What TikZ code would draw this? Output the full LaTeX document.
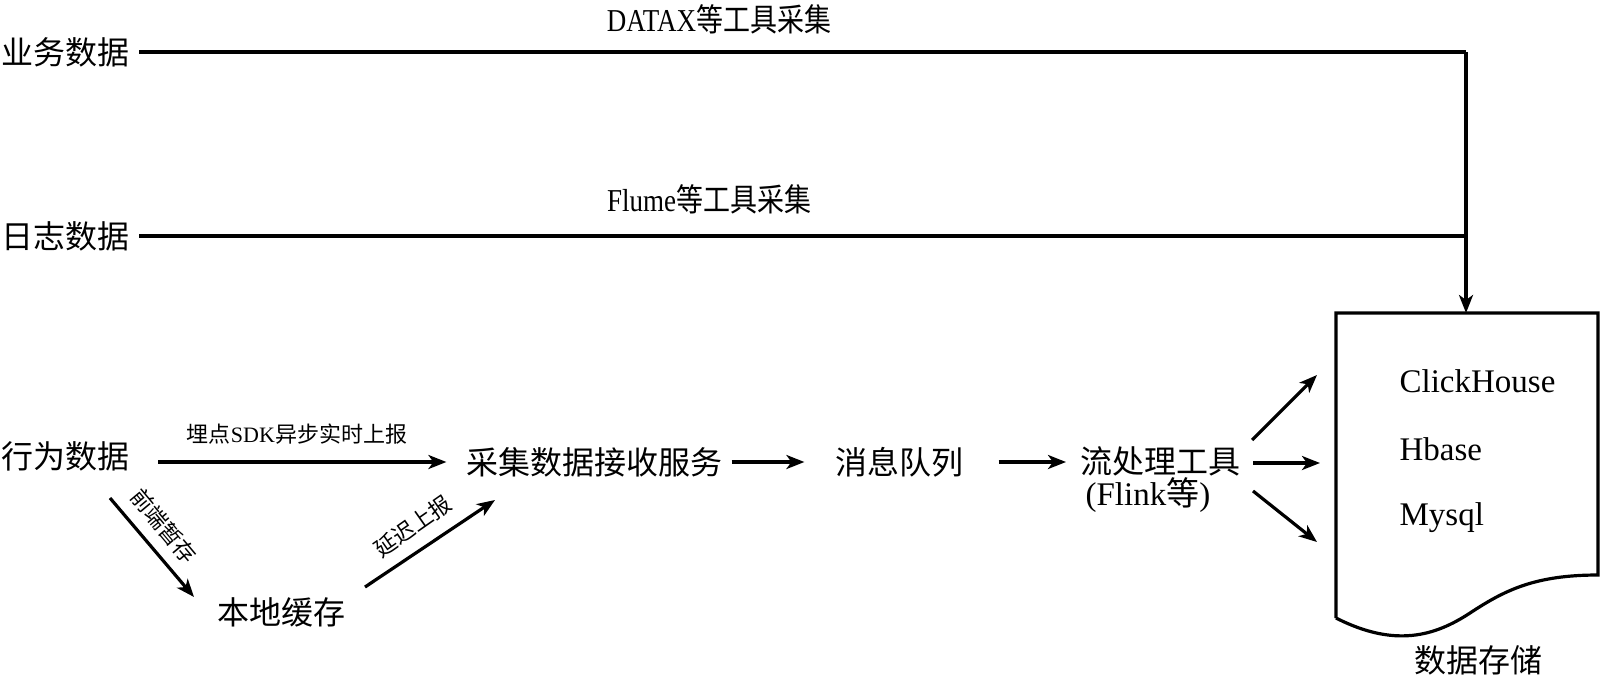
\documentclass[tikz,border=0pt]{standalone}
\usepackage{fontspec}
\setmainfont{Liberation Serif}
\newfontfamily\cjk{Noto Sans CJK SC}
\usetikzlibrary{arrows.meta}
\begin{document}
\begin{tikzpicture}[x=0.5pt,y=-0.5pt,line width=1.6pt,
  big/.style={font=\fontsize{16}{20}\selectfont\cjk,inner sep=0pt},
  lat/.style={font=\fontsize{16.5}{20}\selectfont,inner sep=0pt},
  lab/.style={font=\fontsize{13.5}{16}\selectfont,inner sep=0pt},
  small/.style={font=\fontsize{11}{13}\selectfont,inner sep=0pt},
  arr/.style={-{Stealth[length=9pt,width=7pt,inset=2.5pt]}},
  docshape/.style={line width=1.6pt,line join=miter}]
\useasboundingbox (0,0) rectangle (1600,681);

% text nodes
\node[big,anchor=west] (yw) at (0,52) {业务数据};
\node[big,anchor=west] (rz) at (0,236) {日志数据};
\node[big,anchor=west] (xw) at (0,456) {行为数据};
\node[big] (cj) at (594,462) {采集数据接收服务};
\node[big] (xx) at (899,462) {消息队列};
\node[big,anchor=west] (lc) at (1079,461) {流处理工具};
\node[lat,anchor=west] (fl) at (1084,495) {(Flink{\cjk 等})};
\node[big] (bd) at (281,612) {本地缓存};
\node[big] (sj) at (1478,660) {数据存储};
\node[lat,anchor=west] (ch) at (1398,381) {ClickHouse};
\node[lat,anchor=west] (hb) at (1398,449) {Hbase};
\node[lat,anchor=west] (my) at (1398,518) {Mysql};
\node[lab] (dx) at (719,19) {\scalebox{1}[1.18]{DATAX{\cjk 等工具采集}}};
\node[lab] (fm) at (709,199) {\scalebox{1}[1.18]{Flume{\cjk 等工具采集}}};
\node[small] (sdk) at (297,434) {{\cjk 埋点}SDK{\cjk 异步实时上报}};
\node[small,rotate=-50] (qd) at (164,526) {\cjk 前端暂存};
\node[small,rotate=35] (yc) at (413,526) {\cjk 延迟上报};

% storage document shape
\coordinate (dtl) at (1336,313);
\coordinate (dtr) at (1598,313);
\coordinate (dbr) at (1598,575);
\coordinate (dbl) at (1336,618);
\coordinate (dtop) at (1466,313);
\draw[docshape] (dbl) -- (dtl) -- (dtr) -- (dbr)
  .. controls (1535,575) and (1505,590) .. (1470,613)
  .. controls (1435,636) and (1395,648) .. (dbl);

% top collection lines
\coordinate (corner) at (1466,52);
\draw ([xshift=4pt]yw.east) -- (corner);
\draw ([xshift=4pt]rz.east) -- (rz.east -| corner);
\draw[arr] (corner) -- (dtop);

% behaviour data flow
\draw[arr] ([xshift=13.5pt]xw.east |- cj.west) -- ([xshift=-9pt]cj.west);
\draw[arr] ([xshift=4pt]cj.east) -- ([xshift=-14.5pt]xx.west);
\draw[arr] ([xshift=17pt]xx.east) -- ([xshift=-6.5pt]lc.west |- xx.west);

\coordinate (q1) at (110,498);
\coordinate (q2) at (194,597);
\draw[arr] (q1) -- (q2);
\coordinate (y1) at (365,587);
\coordinate (y2) at (495,500);
\draw[arr] (y1) -- (y2);

% to storage
\coordinate (s1a) at (1252,440);
\coordinate (s1b) at (1317,375);
\coordinate (s2a) at (1253,463);
\coordinate (s2b) at (1320,463);
\coordinate (s3a) at (1253,491);
\coordinate (s3b) at (1317,542);
\draw[arr] (s1a) -- (s1b);
\draw[arr] (s2a) -- (s2b);
\draw[arr] (s3a) -- (s3b);
\end{tikzpicture}
\end{document}
